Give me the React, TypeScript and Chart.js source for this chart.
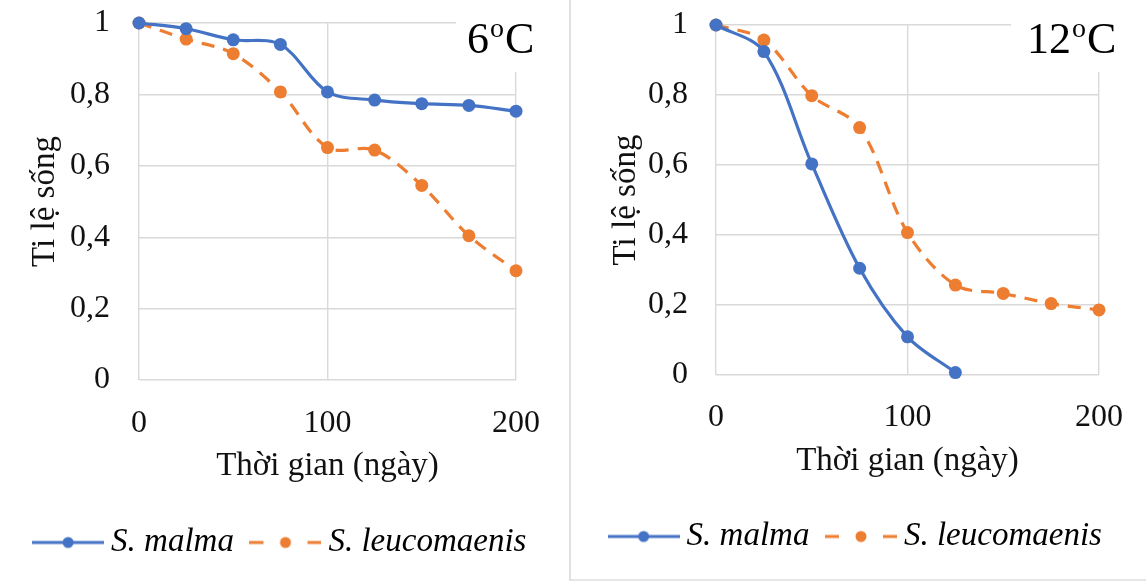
import React, { useEffect, useRef } from 'react';
import { Chart, registerables } from 'chart.js';

Chart.register(...registerables);

const days = [0, 25, 50, 75, 100, 125, 150, 175, 200];
const malma6 = [1, 0.984, 0.953, 0.94, 0.807, 0.784, 0.774, 0.769, 0.753];
const leuco6 = [1, 0.955, 0.914, 0.807, 0.651, 0.644, 0.545, 0.404, 0.306];
const malma12 = [1, 0.924, 0.603, 0.305, 0.109, 0.007];
const leuco12 = [1, 0.957, 0.798, 0.707, 0.407, 0.257, 0.233, 0.204, 0.186];

const seriesNames = ['S. malma', 'S. leucomaenis'];
const xTickValues = [0, 100, 200];
const yTickValues = [0, 0.2, 0.4, 0.6, 0.8, 1];
const yTickLabels = ['0', '0,2', '0,4', '0,6', '0,8', '1'];

const BLUE = '#4472C4';
const ORANGE = '#ED7D31';
const GRID = '#d9d9d9';
const SERIF = '"Liberation Serif", "Times New Roman", serif';

function legendSymbol(color: string, dashed: boolean) {
  const c = document.createElement('canvas');
  c.width = 72;
  c.height = 14;
  const g = c.getContext('2d')!;
  g.strokeStyle = color;
  g.fillStyle = color;
  g.lineWidth = 3;
  g.beginPath();
  if (dashed) {
    g.moveTo(0, 7);
    g.lineTo(14, 7);
    g.moveTo(58, 7);
    g.lineTo(72, 7);
  } else {
    g.moveTo(0, 7);
    g.lineTo(72, 7);
  }
  g.stroke();
  g.beginPath();
  g.arc(36, 7, 5.5, 0, Math.PI * 2);
  g.fill();
  return c;
}

// white box with the temperature label in the top right corner
const cornerLabel = {
  id: 'cornerLabel',
  beforeDatasetsDraw(chart: any, _args: any, opts: any) {
    const { ctx } = chart;
    ctx.save();
    ctx.fillStyle = '#fff';
    ctx.fillRect(opts.boxLeft, 0, chart.width - opts.boxLeft, opts.boxBottom);
    ctx.fillStyle = '#000';
    ctx.textBaseline = 'alphabetic';
    ctx.textAlign = 'left';
    let x = opts.textLeft;
    ctx.font = `44px ${SERIF}`;
    ctx.fillText(opts.num, x, 53);
    x += ctx.measureText(opts.num).width + 1;
    ctx.font = `28px ${SERIF}`;
    ctx.fillText('o', x, 37);
    x += ctx.measureText('o').width + 1;
    ctx.font = `44px ${SERIF}`;
    ctx.fillText('C', x, 53);
    ctx.restore();
  },
};

interface PanelLayout {
  width: number;
  top: number;
  bottom: number;
  yAxisWidth: number;
  rightGap: number;
  yTitlePad: number;
  yTickPad: number;
  xAxisHeight: number;
  xTickPad: number;
  xTitlePad: number;
  boxLeft: number;
  textLeft: number;
}

interface PanelProps {
  malma: number[];
  leuco: number[];
  temp: string;
  lay: PanelLayout;
}

function Panel({ malma, leuco, temp, lay }: PanelProps) {
  const canvasRef = useRef<HTMLCanvasElement>(null);

  useEffect(() => {
    if (!canvasRef.current) return;
    const ctx = canvasRef.current.getContext('2d');
    if (!ctx) return;

    const symbols = [legendSymbol(BLUE, false), legendSymbol(ORANGE, true)];
    const tickFont = { family: SERIF, size: 32 };
    const titleFont = { family: SERIF, size: 33 };

    const chart = new Chart(ctx, {
      type: 'line',
      data: {
        datasets: [
          {
            label: seriesNames[0],
            data: malma.map((v, i) => ({ x: days[i], y: v })),
            borderColor: BLUE,
            backgroundColor: BLUE,
            borderWidth: 3.2,
            pointRadius: 6.5,
            pointBorderWidth: 0,
            pointBackgroundColor: BLUE,
            tension: 0.33,
            clip: false,
          },
          {
            label: seriesNames[1],
            data: leuco.map((v, i) => ({ x: days[i], y: v })),
            borderColor: ORANGE,
            backgroundColor: ORANGE,
            borderWidth: 3.2,
            borderDash: [13, 9],
            pointRadius: 6.5,
            pointBorderWidth: 0,
            pointBackgroundColor: ORANGE,
            tension: 0.33,
            clip: false,
          },
        ],
      },
      options: {
        animation: false,
        responsive: false,
        layout: { padding: { top: lay.top, bottom: lay.bottom, left: 0, right: 0 } },
        scales: {
          x: {
            type: 'linear',
            min: 0,
            max: 200,
            afterBuildTicks: (s: any) => {
              s.ticks = xTickValues.map((value) => ({ value }));
            },
            afterFit: (s: any) => {
              s.height = lay.xAxisHeight;
              s.paddingLeft = 0;
              s.paddingRight = 0;
              s.paddingTop = 0;
              s.paddingBottom = 0;
            },
            ticks: { font: tickFont, color: '#111', padding: lay.xTickPad, maxRotation: 0 },
            grid: { color: GRID, lineWidth: 1.4, drawTicks: false },
            border: { display: false },
            title: {
              display: true,
              text: 'Thời gian (ngày)',
              font: titleFont,
              color: '#111',
              padding: { top: 0, bottom: lay.xTitlePad },
            },
          },
          y: {
            min: 0,
            max: 1,
            afterBuildTicks: (s: any) => {
              s.ticks = yTickValues.map((value) => ({ value }));
            },
            afterFit: (s: any) => {
              s.width = lay.yAxisWidth;
              s.paddingTop = 0;
              s.paddingBottom = 0;
            },
            ticks: {
              font: tickFont,
              color: '#111',
              padding: lay.yTickPad,
              callback: (_v: any, i: number) => yTickLabels[i],
            },
            grid: { color: GRID, lineWidth: 1.4, drawTicks: false },
            border: { display: false },
            title: {
              display: true,
              text: 'Ti lệ sống',
              font: titleFont,
              color: '#111',
              padding: { top: lay.yTitlePad, bottom: 0 },
            },
          },
          y2: {
            position: 'right',
            display: true,
            ticks: { display: false },
            grid: { display: false },
            border: { display: false },
            afterFit: (s: any) => {
              s.width = lay.rightGap;
              s.paddingTop = 0;
              s.paddingBottom = 0;
            },
          },
        },
        plugins: {
          legend: {
            position: 'bottom',
            labels: {
              usePointStyle: true,
              pointStyleWidth: 53,
              padding: 25,
              color: '#111',
              font: { family: SERIF, size: 33, style: 'italic' },
              generateLabels: (c: any) =>
                c.data.datasets.map((ds: any, i: number) => ({
                  text: ds.label,
                  pointStyle: symbols[i],
                  fillStyle: ds.borderColor,
                  strokeStyle: ds.borderColor,
                  lineWidth: 0,
                  hidden: false,
                  datasetIndex: i,
                })),
            },
          },
          tooltip: { enabled: false },
          cornerLabel: { num: temp, boxLeft: lay.boxLeft, boxBottom: 72, textLeft: lay.textLeft },
        } as any,
      },
      plugins: [cornerLabel],
    });

    return () => {
      chart.destroy();
    };
  }, [malma, leuco, temp, lay]);

  return <canvas ref={canvasRef} width={lay.width} height={581} style={{ display: 'block' }} />;
}

const leftLayout: PanelLayout = {
  width: 568,
  top: 23,
  bottom: 12,
  yAxisWidth: 139,
  rightGap: 52,
  yTitlePad: 26,
  yTickPad: 29,
  xAxisHeight: 121,
  xTickPad: 24,
  xTitlePad: 15,
  boxLeft: 456,
  textLeft: 467,
};

const rightLayout: PanelLayout = {
  width: 573,
  top: 25,
  bottom: 18,
  yAxisWidth: 143,
  rightGap: 47,
  yTitlePad: 34,
  yTickPad: 28,
  xAxisHeight: 120,
  xTickPad: 23,
  xTitlePad: 14,
  boxLeft: 438,
  textLeft: 454,
};

export default function App() {
  return (
    <div style={{ position: 'absolute', left: 0, top: 0, width: 1146, height: 581, background: '#fff', overflow: 'hidden' }}>
      <div style={{ position: 'absolute', left: 0, top: 0 }}>
        <Panel malma={malma6} leuco={leuco6} temp="6" lay={leftLayout} />
      </div>
      <div style={{ position: 'absolute', left: 569, top: 0, width: 2, height: 581, background: '#e0e0e0' }} />
      <div style={{ position: 'absolute', left: 573, top: 0 }}>
        <Panel malma={malma12} leuco={leuco12} temp="12" lay={rightLayout} />
      </div>
      <div style={{ position: 'absolute', left: 571, top: 579, width: 575, height: 2, background: '#e6e6e6' }} />
    </div>
  );
}
